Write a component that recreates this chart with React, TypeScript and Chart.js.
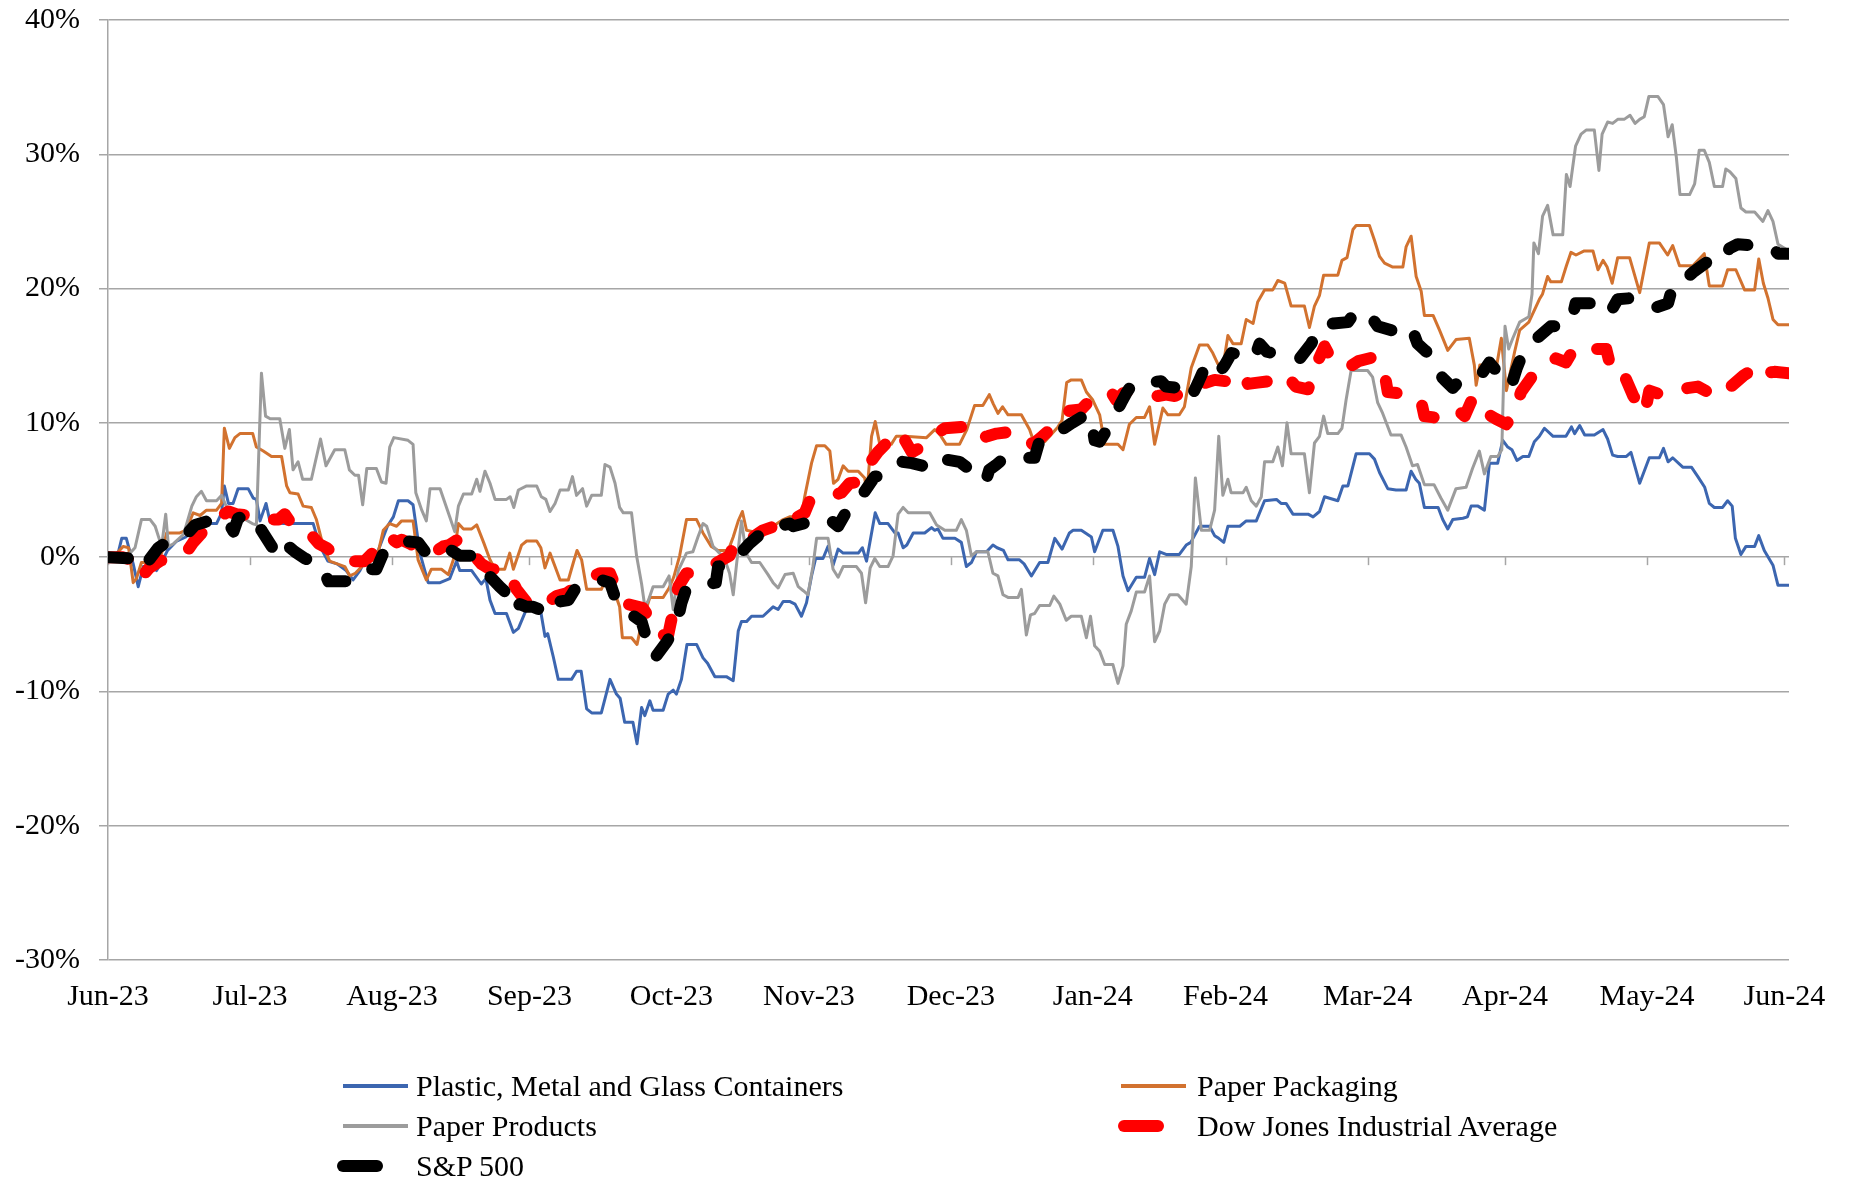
import React, { useEffect, useRef } from 'react';
import { Chart, registerables } from 'chart.js';

Chart.register(...registerables);

// Day offsets counted from 30-Jun-2023 (month-end dates on the axis)
const tickDays = [0, 31, 62, 92, 123, 153, 184, 215, 244, 275, 305, 336, 366];
const tickLabels = ['Jun-23', 'Jul-23', 'Aug-23', 'Sep-23', 'Oct-23', 'Nov-23', 'Dec-23', 'Jan-24', 'Feb-24', 'Mar-24', 'Apr-24', 'May-24', 'Jun-24'];
const xMax = 367;
const yMin = -30;
const yMax = 40;
const yStep = 10;

const seriesNames = [
  'Plastic, Metal and Glass Containers',
  'Paper Packaging',
  'Paper Products',
  'Dow Jones Industrial Average',
  'S&P 500',
];

// [day, % return]
const containers: number[][] = [
  [0,0],[2,0],[3,1.4],[4,1.4],[5.5,-0.5],[6.6,-2.2],[7.7,-0.7],[9.9,-0.7],[10.6,-1.0],[11.7,-0.4],
  [13,0.5],[15,1.2],[17,1.5],[18.6,2.0],[20,2.3],[21.5,2.5],[23.7,2.5],[24.8,3.3],[25.4,5.3],[26.3,4.0],
  [27.3,4.0],[28.4,5.1],[30.6,5.1],[31.7,4.4],[32.4,4.3],[33.2,2.7],[34.5,4.0],[35.4,2.6],[38.3,2.5],[44.8,2.5],
  [46.3,0.8],[48,-0.3],[50,-0.5],[52,-1.0],[53.5,-1.7],[55,-1.0],[56.5,0],[57.9,0],[59,0.5],[61,2.3],
  [62.3,3.0],[63.4,4.2],[65.5,4.2],[66.6,3.9],[68.1,0.3],[69.9,-1.9],[72.5,-1.9],[74.6,-1.6],[75.4,-0.9],[76.1,-0.3],
  [76.8,-1.0],[79.4,-1.0],[81.5,-2.0],[82.5,-1.6],[83.4,-3.2],[84.5,-4.2],[87,-4.2],[88.5,-5.6],[89.6,-5.3],[91.2,-4.0],
  [94.3,-3.7],[95.4,-5.9],[96,-5.7],[97.2,-7.4],[98.3,-9.1],[101.2,-9.1],[102.3,-8.5],[103.3,-8.5],[104.5,-11.3],[105.6,-11.6],
  [107.7,-11.6],[109.6,-9.1],[111,-10.2],[111.8,-10.5],[112.8,-12.3],[114.6,-12.3],[115.5,-13.9],[116.5,-11.2],[117.2,-11.8],[118.3,-10.7],
  [119,-11.4],[121.2,-11.4],[122.3,-10.2],[123.4,-9.9],[124.1,-10.2],[125.2,-9.1],[126.4,-6.5],[128.5,-6.5],[129.9,-7.5],[130.9,-7.9],
  [132.5,-8.9],[135,-8.9],[136.5,-9.2],[137.6,-5.5],[138.3,-4.8],[139.4,-4.8],[140.5,-4.4],[143,-4.4],[145.2,-3.7],[146.3,-3.9],
  [147.4,-3.3],[148.8,-3.3],[150,-3.5],[151.4,-4.4],[152.5,-3.4],[153.6,-1.4],[154.5,-0.1],[156.1,-0.1],[157.2,0.8],[158.3,-0.6],
  [159.4,0.6],[160.5,0.3],[163.8,0.3],[164.7,0.7],[165.6,-0.3],[167.5,3.3],[168.5,2.5],[170.3,2.5],[171.8,1.8],[172.5,1.8],
  [173.6,0.7],[174.4,0.9],[175.8,1.8],[178.3,1.8],[179.8,2.2],[180.5,2.0],[181.2,2.1],[182.3,1.4],[184.9,1.4],[186.3,1.1],
  [187.4,-0.7],[188.5,-0.4],[189.6,0.4],[191.8,0.4],[193.2,0.9],[194.1,0.7],[195.5,0.5],[196.5,-0.2],[199,-0.2],[200,-0.5],
  [201.6,-1.4],[203.4,-0.4],[205.2,-0.4],[206.7,1.4],[208.3,0.6],[209.9,1.8],[210.7,2.0],[212.5,2.0],[214.7,1.5],[215.4,0.4],
  [217.2,2.0],[219.4,2.0],[220.5,0.8],[221.6,-1.4],[222.7,-2.5],[224.5,-1.5],[226.3,-1.5],[227.4,-0.1],[228.5,-1.3],[229.6,0.4],
  [231,0.2],[233.9,0.2],[235.4,0.9],[236.4,1.1],[238.3,2.3],[240.5,2.3],[241.6,1.6],[242.5,1.4],[243.6,1.1],[244.5,2.3],
  [247.1,2.3],[248.5,2.7],[250.7,2.7],[252.5,4.2],[255.1,4.3],[256.1,4.0],[257.2,4.0],[258.7,3.2],[262,3.2],[263.1,3.0],
  [264.5,3.4],[265.6,4.5],[268.5,4.2],[269.6,5.3],[270.7,5.3],[272.5,7.7],[275.4,7.7],[276.5,7.3],[277.6,6.3],[279.4,5.1],
  [281.2,5.0],[283.4,5.0],[284.5,6.4],[285.5,5.8],[286.3,5.5],[287.4,3.7],[290.4,3.7],[291.4,2.8],[292.5,2.1],[293.6,2.8],
  [295.8,2.9],[296.8,3.0],[297.6,3.8],[299.1,3.8],[300.5,3.5],[301.6,7.0],[303.4,7.0],[304.5,8.7],[305.6,8.2],[306.5,8.0],
  [307.6,7.2],[308.9,7.5],[310.2,7.5],[311.4,8.6],[312.5,9.0],[313.6,9.6],[315.5,9.0],[318.3,9.0],[319.5,9.7],[320.2,9.2],
  [321.3,9.8],[322.4,9.1],[324.5,9.1],[326.4,9.5],[327.4,8.8],[328.5,7.6],[329.6,7.5],[331.5,7.5],[332.5,7.8],[334.4,5.5],
  [336.5,7.4],[338.7,7.4],[339.6,8.1],[340.6,7.1],[341.6,7.4],[343.8,6.7],[345.7,6.7],[347.1,6.0],[348.6,5.2],[349.6,4.0],
  [350.7,3.7],[352.5,3.7],[353.6,4.2],[354.6,3.8],[355.3,1.4],[356.5,0.2],[357.6,0.8],[359.5,0.8],[360.4,1.6],[361.6,0.5],
  [363.5,-0.6],[364.6,-2.1],[367,-2.1],
];

const paperPackaging: number[][] = [
  [0,0],[2,0.3],[3.3,0.8],[4.5,0.7],[5.5,-1.9],[6.2,-1.6],[7.3,-0.4],[10.6,-0.4],[11.7,0.3],[12.8,1.8],
  [15.7,1.8],[17,2.0],[18.6,3.3],[20.1,3.1],[21.5,3.5],[23.7,3.5],[24.8,4.0],[25.4,9.6],[26.5,8.1],[27.7,8.9],
  [28.8,9.2],[31.6,9.2],[32.4,8.2],[33.9,7.9],[35.7,7.5],[37.9,7.5],[39,5.3],[39.7,4.8],[41.5,4.7],[42.6,3.8],
  [44.4,3.7],[45.5,2.8],[47,0.8],[48.4,-0.3],[51.7,-0.7],[52.8,-1.4],[54,-1.2],[56.5,-0.3],[58.6,-0.2],[60.1,2.0],
  [61.5,2.5],[63,2.3],[64.1,2.7],[66.6,2.7],[67.7,-0.2],[69.5,-1.7],[70.6,-0.9],[72.8,-0.9],[74.3,-1.3],[75.4,-0.2],
  [76.5,2.5],[77.6,2.1],[79.4,2.1],[80.5,2.4],[82,1.1],[83.4,-0.2],[84.5,-0.9],[86.6,-0.9],[87.7,0.3],[88.5,-0.9],
  [90.3,0.9],[91.4,1.2],[93.6,1.2],[94.5,0.7],[95.4,-0.8],[96.5,0.3],[97.6,-0.7],[98.7,-1.7],[100.5,-1.7],[101.6,-0.4],
  [102.4,0.5],[103.4,-0.2],[104.5,-2.4],[107.7,-2.4],[108.9,-1.5],[110.7,-2.7],[111.7,-3.7],[112.3,-6.0],[114.3,-6.0],[115.5,-6.5],
  [116.5,-4.9],[118.3,-3.0],[121.2,-3.0],[122.5,-2.3],[123.5,-1.5],[124.8,0.1],[126.3,2.8],[128.5,2.8],[129.9,1.8],[131.7,0.8],
  [133.2,0.5],[135.4,0.5],[136.5,1.5],[137.6,2.7],[138.5,3.4],[139.4,2.0],[140.8,1.9],[143.4,1.9],[145.2,2.3],[147.4,2.8],
  [148.8,3.0],[151.4,3.0],[152.1,4.5],[153.6,7.0],[154.7,8.3],[156.5,8.3],[157.6,7.9],[158.4,5.5],[159.4,5.8],[160.5,6.8],
  [161.6,6.4],[163.8,6.4],[165.2,5.9],[165.7,4.8],[166.7,9.0],[167.5,10.1],[168.5,8.4],[171,8.4],[172.1,9.0],[174,9.0],
  [178.7,8.9],[180.5,9.5],[181.5,9.2],[183,8.4],[185.9,8.4],[187.5,9.5],[189.2,11.3],[191,11.3],[192.4,12.1],[193.3,11.4],
  [194.3,10.7],[195.3,11.2],[196.5,10.6],[199.4,10.6],[201.2,9.5],[202.3,8.4],[204.5,8.6],[207.4,9.7],[208.3,10.2],[209.3,13.0],
  [210.3,13.2],[212.5,13.2],[213.6,12.3],[215,11.7],[216.5,10.6],[217.6,8.4],[220.5,8.4],[221.6,8.0],[223,9.9],[224.5,10.4],
  [226.3,10.4],[227.4,11.2],[228.5,8.4],[230.3,11.1],[231.4,10.6],[233.9,10.6],[235,11.2],[236.5,14.1],[238.3,15.8],[240.1,15.8],
  [241.2,15.2],[242.3,14.4],[243.4,14.1],[244.5,16.5],[245.6,15.9],[247.4,15.9],[248.5,17.7],[250,17.4],[251,19.0],[252.5,19.9],
  [254.3,19.9],[255.4,20.6],[256.9,20.4],[258.3,18.7],[261.2,18.7],[262.3,17.1],[263.4,18.7],[264.5,19.5],[265.4,21.0],[268.5,21.0],
  [269.4,22.1],[270.5,22.3],[271.8,24.4],[272.5,24.7],[275.4,24.7],[276.5,23.6],[277.6,22.4],[278.7,21.9],[280.5,21.6],[282.7,21.6],
  [283.4,23.1],[284.5,23.9],[285.6,20.9],[286.7,19.8],[287.4,18.0],[289.3,18.0],[290.7,16.9],[292.5,15.4],[294.3,16.2],[297.2,16.3],
  [298.3,14.3],[298.7,12.8],[299.5,14.3],[300.5,14.3],[303.1,14.1],[304.2,16.3],[305.3,12.4],[307.1,15.3],[308.2,16.9],[310.2,17.5],
  [312.5,19.2],[313.2,19.6],[314.3,20.9],[315,20.5],[317.3,20.5],[318.4,21.7],[319.4,22.7],[320.5,22.5],[322.3,22.8],[324.2,22.8],
  [325.3,21.4],[326.4,22.1],[327.3,21.6],[328.4,20.4],[329.6,22.3],[332.2,22.3],[334.4,19.7],[336.5,23.4],[338.7,23.4],[340.5,22.5],
  [341.6,23.2],[343.1,21.7],[346,21.7],[348.5,22.6],[349.6,20.2],[352.5,20.2],[353.6,21.4],[355.4,21.4],[357.3,19.9],[359.5,19.9],
  [360.4,22.2],[361.4,20.4],[362.4,19.3],[363.5,17.7],[364.6,17.3],[367,17.3],
];

const paperProducts: number[][] = [
  [0,0],[3,0.2],[4.8,0.3],[5.9,0.7],[7.3,2.8],[9.2,2.8],[10.3,2.3],[11.7,0.8],[12.6,3.2],[13.2,0.8],
  [14.3,1.0],[16.5,1.7],[18.3,3.8],[19.3,4.5],[20.4,4.9],[21.5,4.2],[23.7,4.2],[24.8,4.6],[25.8,3.8],[27,3.5],
  [29,3.0],[31.5,2.5],[32.4,2.4],[33.5,13.7],[34.4,10.5],[35.4,10.3],[37.5,10.3],[38.6,8.1],[39.6,9.5],[40.4,6.5],
  [41.5,7.1],[42.5,5.8],[44.4,5.8],[46.4,8.8],[47.6,6.8],[49.5,8.0],[51.7,8.0],[52.7,6.5],[53.9,6.1],[54.7,6.1],
  [55.6,3.9],[56.5,6.6],[58.6,6.6],[59.7,5.6],[60.7,5.5],[61.5,8.2],[62.4,8.9],[65.5,8.7],[66.6,8.4],[67.2,4.8],
  [68.5,3.5],[69.5,2.7],[70.3,5.1],[72.5,5.1],[74.6,3.0],[75.7,1.9],[76.5,3.8],[77.6,4.7],[79.4,4.7],[80.5,5.8],
  [81.2,4.9],[82.3,6.4],[83.4,5.5],[84.5,4.3],[87,4.3],[87.8,4.5],[88.6,3.7],[89.6,5.0],[91.4,5.3],[93.6,5.3],
  [94.6,4.5],[95.6,4.3],[96.5,3.4],[97.6,4.0],[98.7,5.0],[100.5,5.0],[101.4,6.0],[102.3,4.6],[103.6,5.1],[104.5,3.8],
  [105.6,4.6],[107.7,4.6],[108.5,6.9],[109.6,6.7],[110.7,5.5],[111.7,3.7],[112.5,3.3],[114.3,3.3],[115.4,0.1],[116.5,-2.0],
  [117.2,-3.7],[118,-3.2],[119,-2.2],[121.2,-2.2],[122.5,-1.4],[123.4,-3.9],[124.5,-1.0],[125.6,-0.2],[126.3,0.3],[127.7,0.4],
  [128.8,1.5],[129.9,2.5],[130.7,2.3],[132.1,0.8],[133.5,0.3],[134.5,0.0],[135.7,-1.2],[136.5,-2.8],[137.4,0.0],[138.3,2.7],
  [139.3,0.3],[140.5,-0.4],[142.3,-0.4],[144.1,-1.3],[145.2,-1.9],[146.3,-2.3],[147.8,-1.3],[149.6,-1.2],[150.7,-2.2],[151.8,-2.5],
  [152.8,-2.8],[153.9,-0.7],[154.7,1.4],[157.2,1.4],[158.3,-0.9],[159.4,-1.5],[160.5,-0.7],[163.4,-0.7],[164.5,-1.2],[165.4,-3.4],
  [166.4,-0.8],[167.4,-0.1],[168.5,-0.7],[170.3,-0.7],[171.4,0.1],[172.5,3.2],[173.6,3.7],[174.7,3.3],[179.4,3.3],[180.9,2.4],
  [182.7,2.0],[185.2,2.0],[186.3,2.8],[187.4,2.0],[188.5,0.1],[189.6,0.4],[192.1,0.4],[193.2,-1.2],[194.3,-1.4],[195.4,-2.8],
  [196.5,-3.0],[198.7,-3.0],[199.4,-2.4],[200.5,-5.8],[201.4,-4.3],[202.3,-4.2],[203.4,-3.6],[205.6,-3.6],[206.5,-2.9],[207.8,-3.5],
  [209.2,-4.7],[210.3,-4.4],[212.5,-4.4],[213.6,-6.0],[214.5,-4.4],[215.4,-6.6],[216.5,-7.0],[217.6,-8.0],[219.4,-8.0],[220.5,-9.4],
  [221.6,-8.1],[222.3,-5.0],[223.4,-4.0],[224.5,-2.6],[226.3,-2.6],[227.4,-1.4],[228.5,-6.3],[229.6,-5.5],[230.7,-3.5],[231.8,-2.8],
  [233.6,-2.8],[235.4,-3.5],[236.5,-0.7],[237.4,5.9],[238.7,2.0],[240.5,2.0],[241.6,3.5],[242.5,9.0],[243.4,4.6],[244.5,5.8],
  [245.2,4.8],[247.8,4.8],[248.5,5.2],[249.6,4.2],[250.7,3.8],[251.8,4.5],[252.5,7.1],[254.3,7.1],[255.4,8.2],[256.4,6.8],
  [257.4,10.0],[258.3,7.7],[261.2,7.7],[262.3,4.8],[263.4,8.5],[264.5,9.0],[265.4,10.5],[266.3,9.2],[268.5,9.2],[269.4,9.6],
  [270.3,11.7],[271.4,13.9],[275,13.9],[276.1,13.4],[277.2,11.5],[278.3,10.7],[280.1,9.1],[282.3,9.1],[283.4,8.2],[284.8,6.8],
  [285.9,6.9],[287.4,5.4],[289.5,5.4],[291,4.4],[292.5,3.5],[294.3,5.1],[296.5,5.2],[297.9,6.6],[299.4,7.9],[300.5,6.2],
  [301.9,7.5],[303.4,7.5],[304.3,8.0],[305,17.2],[305.8,15.5],[306.7,16.3],[308.2,17.5],[310.2,17.9],[310.9,19.6],[311.3,23.4],
  [312.3,22.6],[313.2,25.4],[314.3,26.2],[315.5,24.0],[317.6,24.0],[318.4,28.5],[319.2,27.6],[320.4,30.6],[321.6,31.5],[322.7,31.8],
  [324.5,31.8],[325.5,28.8],[326.2,31.5],[327.4,32.4],[328.5,32.3],[329.6,32.6],[331,32.6],[332.3,32.9],[333.4,32.3],[334.4,32.6],
  [335.4,32.8],[336.4,34.3],[338.4,34.3],[339.6,33.7],[340.6,31.3],[341.5,32.2],[342.4,29.8],[343.2,27.0],[345.3,27.0],[346.4,27.8],
  [347.4,30.3],[348.5,30.3],[349.6,29.4],[350.7,27.6],[352.5,27.6],[353.2,28.9],[354.1,28.7],[355.4,28.2],[356.5,26.0],[357.6,25.7],
  [359.5,25.7],[361.3,25.0],[362.4,25.8],[363.5,25.0],[364.6,23.3],[367,22.8],
];

const dowJones: number[][] = [
  [0,0],[3,0],[5.2,-0.2],[6.3,-1.2],[7.3,-1.5],[9,-0.8],[11.3,-0.3],[14.3,0.2],[17.2,0.4],[18.6,1.1],
  [21,2.0],[23,2.8],[24.8,3.1],[26.3,3.4],[28,3.2],[31,3.1],[33,2.8],[35,2.8],[37.2,2.8],[38.6,3.2],
  [40.4,2.3],[41.9,2.2],[44,1.8],[46,1.0],[47.7,0.7],[49.2,0.3],[52.1,0.3],[53.9,-0.3],[56,-0.3],[58.6,0.6],
  [60.1,1.4],[61.5,1.5],[63,1.1],[64.1,1.3],[66,1.0],[68,0.5],[71,0.3],[73.2,0.8],[74.5,0.9],[76.8,1.4],
  [79,0.5],[81.5,-0.5],[83.4,-0.9],[87,-0.9],[89.2,-2.4],[91.5,-3.4],[94.3,-3.8],[97.9,-2.9],[100.1,-2.7],[103,-2.0],
  [105.5,-1.5],[107.4,-1.2],[109.6,-1.2],[111.7,-2.9],[113.5,-3.5],[116.8,-3.8],[118.3,-4.6],[120.1,-5.8],[122.3,-5.8],[124.5,-2.2],
  [126.3,-1.2],[128.5,-1.2],[130.3,-0.9],[133,-0.4],[135.7,0.1],[136.8,1.1],[137.9,1.5],[140.8,1.5],[143,2.0],[145.5,2.3],
  [148.1,3.0],[149.6,2.8],[152.1,3.3],[153.2,4.2],[156,4.5],[158.5,4.6],[160.1,4.8],[161.9,5.5],[164.1,5.6],[165.9,6.8],
  [168,7.8],[170,8.5],[171.4,9.1],[172.5,9.4],[174,8.7],[175.5,7.8],[178,8.3],[180.5,9.1],[182.7,9.6],[186.3,9.7],
  [187.4,9.0],[189.6,8.8],[192,9.0],[194,9.2],[196.5,9.3],[199,9.3],[200.5,9.0],[201.9,8.4],[204,9.0],[206,9.6],
  [208.1,10.1],[209.9,10.9],[212.5,11.0],[214.7,11.8],[217,12.0],[219,12.3],[220.1,11.7],[221.6,12.2],[222.7,12.3],[224.9,12.2],
  [227,12.1],[229.2,12.0],[231,12.1],[232.9,12.0],[235,12.3],[238,12.8],[241.6,13.2],[244.1,13.1],[245.9,13.7],[247.8,13.6],
  [248.9,12.9],[251,13.0],[253.5,13.1],[255.8,13.3],[257.2,13.6],[259.3,12.7],[262,12.5],[264,14.5],[265.6,15.7],[266.7,15.0],
  [268.8,14.7],[270.7,14.1],[273,14.6],[276.5,14.9],[277.6,14.2],[278.7,13.7],[279.4,12.3],[282,12.2],[285,12.0],[286.7,11.6],
  [287.4,10.5],[289.6,10.4],[292,10.5],[294.5,11.0],[296.2,10.5],[298,11.9],[300.5,10.8],[303,10.3],[305.3,9.9],[307.1,10.8],
  [308.5,12.3],[311,13.5],[314.3,14.4],[316.1,14.8],[318.3,14.5],[320.2,15.6],[323,15.5],[327.1,15.5],[328.1,14.1],[328.9,13.5],
  [331.1,13.5],[333,12.0],[335.5,10.7],[336.5,12.4],[339.1,12.1],[343,12.5],[347.1,12.7],[349.3,12.3],[352.5,12.0],[354.3,12.7],
  [357,13.5],[360.5,14.3],[361.6,13.7],[363.8,13.8],[367,13.7],
];

const sp500: number[][] = [
  [0,0],[4.8,-0.1],[6.3,-0.4],[7,-0.9],[9,-0.2],[11,0.7],[12.8,1.1],[16.4,1.4],[19,2.4],[21,2.6],
  [23.5,2.9],[25.9,2.8],[27.4,1.9],[28.4,2.9],[31.4,3.2],[33.5,2.0],[36.1,0.6],[38.3,1.5],[39.4,0.8],[40.8,0.4],
  [43,-0.1],[45,-0.4],[46.6,-0.6],[48.1,-1.8],[52.1,-1.8],[54,-1.7],[55.7,-1.5],[57.2,-0.9],[58.6,-0.9],[60.1,0.3],
  [62,0.8],[64.5,1.2],[67.7,1.1],[69.9,0.1],[72.8,0.4],[74.5,0.6],[76.8,0.1],[79.7,0.1],[81.5,-0.3],[83,-1.3],
  [85.5,-2.2],[87.7,-2.9],[88.5,-4.0],[89.9,-3.5],[91.4,-3.7],[92.8,-3.7],[95,-4.0],[97.6,-4.2],[98.7,-3.3],[100.5,-3.2],
  [102.3,-2.2],[105,-1.9],[107.7,-1.7],[109.6,-1.9],[110.7,-3.0],[111.7,-3.7],[114,-4.2],[116.5,-4.8],[117.6,-6.1],[118.3,-7.0],
  [119.4,-7.5],[122,-6.3],[124.1,-5.1],[125.2,-3.4],[126.3,-2.3],[129.5,-2.1],[132.7,-1.9],[133.2,-0.7],[135,-0.6],[136.5,-0.4],
  [137.1,-0.1],[140,1.0],[142.7,1.8],[144.1,1.8],[145.2,2.2],[148.8,2.5],[149.6,2.3],[153,2.6],[157.2,2.9],[159.4,2.3],
  [160.9,3.2],[162.3,3.5],[165,4.8],[167.4,6.0],[169.2,6.0],[171,6.4],[172.5,6.8],[173.4,7.1],[175.5,7.0],[177.9,6.8],
  [179.4,7.3],[181.2,7.6],[182.3,7.3],[185.9,7.1],[189,6.3],[191.6,5.6],[192.4,6.5],[194,6.9],[196.1,7.5],[199,7.4],
  [202.3,7.4],[203.4,8.7],[204.9,8.8],[207,9.2],[210.5,10.0],[213.9,10.7],[214.7,10.2],[215.4,8.7],[216.5,8.6],[219,10.0],
  [221.2,11.5],[222.3,12.2],[223.8,13.0],[226.7,13.0],[229.9,13.1],[231,12.7],[233.9,12.6],[236.2,11.7],[238,13.0],[239.8,14.4],
  [241.6,13.8],[242.7,13.8],[243.8,14.3],[245.3,15.2],[248,15.0],[250.3,14.8],[251.4,15.9],[253,15.3],[255.4,15.1],[258,15.0],
  [260.2,14.8],[262.7,15.9],[264.5,17.2],[267.5,17.4],[270.7,17.5],[272.2,18.2],[275.1,18.2],[277.2,17.2],[280.2,16.9],[282.3,16.9],
  [284.5,17.2],[285.9,15.9],[287.5,15.4],[289.2,14.9],[290.4,13.7],[291.8,13.2],[293.6,12.6],[295.5,13.3],[297.6,13.5],[299.8,13.6],
  [301.6,14.5],[304,13.5],[306.3,12.7],[307.5,14.0],[308.9,15.2],[312,16.3],[315,17.2],[318.3,17.2],[319.8,18.0],[320.4,18.9],
  [324,18.9],[327.4,18.9],[328.1,18.3],[329.6,19.2],[332.9,19.3],[335.5,19.0],[338,18.6],[340.6,18.9],[341.6,20.2],[343.1,20.3],
  [346,21.2],[349.6,22.1],[352.9,22.1],[354,23.0],[355.8,23.3],[359.5,23.2],[363.5,23.0],[364.6,22.6],[367,22.6],
];

const colors = ['#3C66B0', '#D2722F', '#9C9C9C', '#FF0000', '#000000'];
const gridColor = '#A6A6A6';
const fontFamily = "'Liberation Serif', 'Times New Roman', serif";

const W = 1854;
const H = 1184;

const zeroAxisTicks = {
  id: 'zeroAxisTicks',
  beforeDatasetsDraw(chart: any) {
    const { ctx, scales } = chart;
    const x = scales.x;
    const y = scales.y;
    const y0 = y.getPixelForValue(0);
    ctx.save();
    ctx.strokeStyle = gridColor;
    ctx.lineWidth = 1.5;
    tickDays.forEach((d) => {
      const px = Math.round(x.getPixelForValue(d)) + 0.5;
      ctx.beginPath();
      ctx.moveTo(px, y0);
      ctx.lineTo(px, y0 + 8);
      ctx.stroke();
    });
    ctx.restore();
  },
};

function toPoints(arr: number[][]) {
  return arr.map(([x, y]) => ({ x, y }));
}

export default function App() {
  const canvasRef = useRef<HTMLCanvasElement | null>(null);

  useEffect(() => {
    const canvas = canvasRef.current;
    if (!canvas) return;
    const allSeries = [containers, paperPackaging, paperProducts, dowJones, sp500];
    const datasets = allSeries.map((s, i) => {
      const dashed = i >= 3;
      return {
        label: seriesNames[i],
        data: toPoints(s),
        borderColor: colors[i],
        backgroundColor: colors[i],
        borderWidth: dashed ? 12 : 3,
        borderDash: dashed ? [20, 31] : [],
        borderCapStyle: dashed ? 'round' : 'butt',
        borderJoinStyle: 'round',
        pointRadius: 0,
        pointHoverRadius: 0,
        tension: 0,
        fill: false,
        order: 5 - i,
      };
    });

    const chart = new Chart(canvas, {
      type: 'line',
      data: { datasets } as any,
      options: {
        responsive: false,
        animation: false,
        devicePixelRatio: 1,
        layout: { padding: { left: 0, top: 20, right: W - 1789, bottom: 0 } },
        plugins: {
          legend: { display: false },
          tooltip: { enabled: false },
        },
        scales: {
          x: {
            type: 'linear',
            min: tickDays[0],
            max: xMax,
            afterBuildTicks: (scale: any) => {
              scale.ticks = tickDays.map((v) => ({ value: v }));
            },
            afterFit: (scale: any) => {
              scale.height = H - 960;
              scale.paddingLeft = 0;
              scale.paddingRight = 0;
            },
            grid: { display: false, drawTicks: false },
            border: { display: false },
            ticks: {
              autoSkip: false,
              maxRotation: 0,
              minRotation: 0,
              padding: 19,
              color: '#000',
              font: { family: fontFamily, size: 30 },
              callback: (value: any) => {
                const idx = tickDays.indexOf(Number(value));
                return idx >= 0 ? tickLabels[idx] : '';
              },
            },
          },
          y: {
            type: 'linear',
            min: yMin,
            max: yMax,
            afterFit: (scale: any) => {
              scale.width = 108;
              scale.paddingTop = 0;
              scale.paddingBottom = 0;
            },
            grid: { color: gridColor, lineWidth: 1.5, tickLength: 9, drawTicks: true },
            border: { display: true, color: gridColor, width: 1.5 },
            ticks: {
              stepSize: yStep,
              padding: 19,
              color: '#000',
              font: { family: fontFamily, size: 30 },
              callback: (value: any) => `${value}%`,
            },
          },
        },
      } as any,
      plugins: [zeroAxisTicks],
    });
    return () => chart.destroy();
  }, []);

  const textStyle: React.CSSProperties = {
    position: 'absolute',
    fontFamily,
    fontSize: 30,
    lineHeight: '36px',
    color: '#000',
    whiteSpace: 'nowrap',
    transform: 'translateY(-50%)',
  };
  const lineMarker = (left: number, top: number, color: string): React.CSSProperties => ({
    position: 'absolute',
    left,
    top: top - 1.75,
    width: 65,
    height: 3.5,
    background: color,
  });
  const dashMarker = (left: number, top: number, color: string): React.CSSProperties => ({
    position: 'absolute',
    left,
    top: top - 6,
    width: 46,
    height: 12,
    borderRadius: 6,
    background: color,
  });

  const rows = [1086, 1126, 1166];

  return (
    <div style={{ position: 'fixed', left: 0, top: 0, width: W, height: H, background: '#fff', overflow: 'hidden' }}>
      <canvas ref={canvasRef} width={W} height={H} style={{ position: 'absolute', left: 0, top: 0, width: W, height: H }} />
      <div style={lineMarker(343, rows[0], colors[0])} />
      <div style={{ ...textStyle, left: 416, top: rows[0] }}>{seriesNames[0]}</div>
      <div style={lineMarker(1121, rows[0], colors[1])} />
      <div style={{ ...textStyle, left: 1197, top: rows[0] }}>{seriesNames[1]}</div>
      <div style={lineMarker(343, rows[1], colors[2])} />
      <div style={{ ...textStyle, left: 416, top: rows[1] }}>{seriesNames[2]}</div>
      <div style={dashMarker(1118, rows[1], colors[3])} />
      <div style={{ ...textStyle, left: 1197, top: rows[1] }}>{seriesNames[3]}</div>
      <div style={dashMarker(337, rows[2], colors[4])} />
      <div style={{ ...textStyle, left: 416, top: rows[2] }}>{seriesNames[4]}</div>
    </div>
  );
}
